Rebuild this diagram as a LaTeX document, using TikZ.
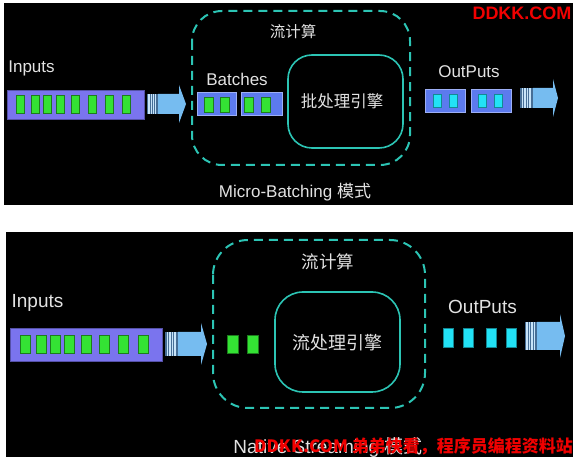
\documentclass[tikz,border=0pt]{standalone}
\usepackage{fontspec}
\setmainfont{Liberation Sans}
\newfontfamily\cjk{Noto Sans CJK SC}

\definecolor{bargray}{RGB}{122,116,238}
\definecolor{batchblue}{RGB}{92,122,238}
\definecolor{dotgreen}{RGB}{52,226,52}
\definecolor{dotcyan}{RGB}{34,226,246}
\definecolor{teal}{RGB}{44,196,180}
\definecolor{arrowblue}{RGB}{118,188,240}
\definecolor{stripeblue}{RGB}{70,110,150}
\definecolor{labelgray}{RGB}{226,226,226}
\definecolor{markred}{RGB}{240,0,0}

\tikzset{
  panel/.style={fill=black},
  label/.style={text=labelgray, inner sep=0pt},
  gdot/.style={fill=dotgreen, draw=dotgreen!55!black, line width=0.5pt, inner sep=0pt},
  cdot/.style={fill=dotcyan, draw=dotcyan!60!black, line width=0.5pt, inner sep=0pt},
  inbar/.style={fill=bargray, draw=bargray!70!black, line width=0.5pt, inner sep=0pt},
  batchbox/.style={fill=batchblue, draw=batchblue!60!white, line width=0.8pt, inner sep=0pt},
  outerbox/.style={draw=teal, line width=2pt, dash pattern=on 9pt off 6pt},
  enginebox/.style={draw=teal, line width=1.6pt},
  watermark/.style={text=markred, inner sep=0pt, font=\cjk\bfseries}
}

% striped fat arrow: stripes x0..x1, body to x2, tip x3, centre y, body half, head half
\newcommand{\stripearrow}[7]{%
  \fill[stripeblue] (#1,#5-#6) rectangle (#2,#5+#6);
  \foreach \s in {0.12,0.32,0.52,0.72}
    \fill[arrowblue!40!white] ({#1+\s*(#2-#1)},#5-#6) rectangle ({#1+(\s+0.11)*(#2-#1)},#5+#6);
  \fill[arrowblue] (#2,#5-#6) -- (#3,#5-#6) -- (#3,#5-#7) -- (#4,#5) -- (#3,#5+#7)
    -- (#3,#5+#6) -- (#2,#5+#6) -- cycle;
}

\begin{document}
\begin{tikzpicture}[x=1pt, y=-1pt]
  \useasboundingbox[fill=white] (0,0) rectangle (574,457);
  \fill[panel] (4,3) rectangle (573,205);
  \fill[panel] (6,232) rectangle (573,457);

  % Micro-Batching
  \node[label, font=\fontsize{17}{17}\selectfont] (intop) at (31.5,68) {Inputs};
  \node[inbar, minimum width=137pt, minimum height=29pt] (bartop) at (75.5,104.5) {};
  \foreach \x [count=\i] in {20,35.5,47.5,60,75,92,109,126.5}
    \node[gdot, minimum width=8pt, minimum height=18pt] (gt\i) at (\x,104) {};
  \stripearrow{147}{158}{179}{186}{104}{10}{19}

  \draw[outerbox, rounded corners=30pt] (192,11) rectangle (410,165);
  \node[label, font=\cjk\fontsize{15.5}{15.5}\selectfont] (flowtop) at (293,32) {流计算};
  \node[label, font=\fontsize{17}{17}\selectfont] (batches) at (237,79) {Batches};
  \node[batchbox, minimum width=39pt, minimum height=23pt] (bt1) at (216.5,103.5) {};
  \node[batchbox, minimum width=41pt, minimum height=23pt] (bt2) at (261.5,103.5) {};
  \foreach \x [count=\i] in {208.5,225,249,266}
    \node[gdot, minimum width=9pt, minimum height=15pt] (bg\i) at (\x,104.5) {};
  \draw[enginebox, rounded corners=24pt] (288,55) rectangle (403,148);
  \node[label, font=\cjk\fontsize{16.5}{16.5}\selectfont] (batcheng) at (342,101) {批处理引擎};
  \node[label, font=\fontsize{17}{17}\selectfont] (modetop) at (295,192) {Micro-Batching {\cjk 模式}};

  \node[label, font=\fontsize{17}{17}\selectfont] (outtop) at (469,72) {OutPuts};
  \node[batchbox, minimum width=40pt, minimum height=23pt] (ot1) at (445,100.5) {};
  \node[batchbox, minimum width=40pt, minimum height=23pt] (ot2) at (491,100.5) {};
  \foreach \x [count=\i] in {437,453,482,498}
    \node[cdot, minimum width=8pt, minimum height=13pt] (oc\i) at (\x,100.5) {};
  \stripearrow{520}{533}{553}{558}{98}{10}{19}
  \node[watermark, font=\bfseries\fontsize{18}{18}\selectfont] (marktop) at (522,13) {DDKK.COM};

  % Native Streaming
  \node[label, font=\fontsize{19}{19}\selectfont] (inbot) at (37.5,303) {Inputs};
  \node[inbar, minimum width=152pt, minimum height=33pt] (barbot) at (86,344.5) {};
  \foreach \x [count=\i] in {25,41,55,69,86,104,123,143}
    \node[gdot, minimum width=10pt, minimum height=18pt] (gb\i) at (\x,344) {};
  \stripearrow{165}{178}{201}{207}{344}{12}{21}

  \draw[outerbox, rounded corners=35pt] (213,240) rectangle (425,408);
  \node[label, font=\cjk\fontsize{17.5}{17.5}\selectfont] (flowbot) at (328,262) {流计算};
  \node[gdot, minimum width=11pt, minimum height=18pt] (sg1) at (232.5,344) {};
  \node[gdot, minimum width=11pt, minimum height=18pt] (sg2) at (252.5,344) {};
  \draw[enginebox, rounded corners=28pt] (275,292) rectangle (400,392);
  \node[label, font=\cjk\fontsize{18}{18}\selectfont] (streameng) at (337,343) {流处理引擎};
  \node[label, font=\fontsize{19}{19}\selectfont] (modebot) at (328,447) {Native Streaming {\cjk 模式}};

  \node[label, font=\fontsize{19}{19}\selectfont] (outbot) at (482.5,307) {OutPuts};
  \foreach \x [count=\i] in {448,468,491,511}
    \node[cdot, minimum width=10pt, minimum height=19pt] (sc\i) at (\x,337.5) {};
  \stripearrow{525}{537}{560}{565}{336}{14}{22}
  \node[watermark, font=\cjk\bfseries\fontsize{17}{17}\selectfont, anchor=east] (markbot) at (573,446)
    {DDKK.COM 弟弟快看，程序员编程资料站};
\end{tikzpicture}
\end{document}
